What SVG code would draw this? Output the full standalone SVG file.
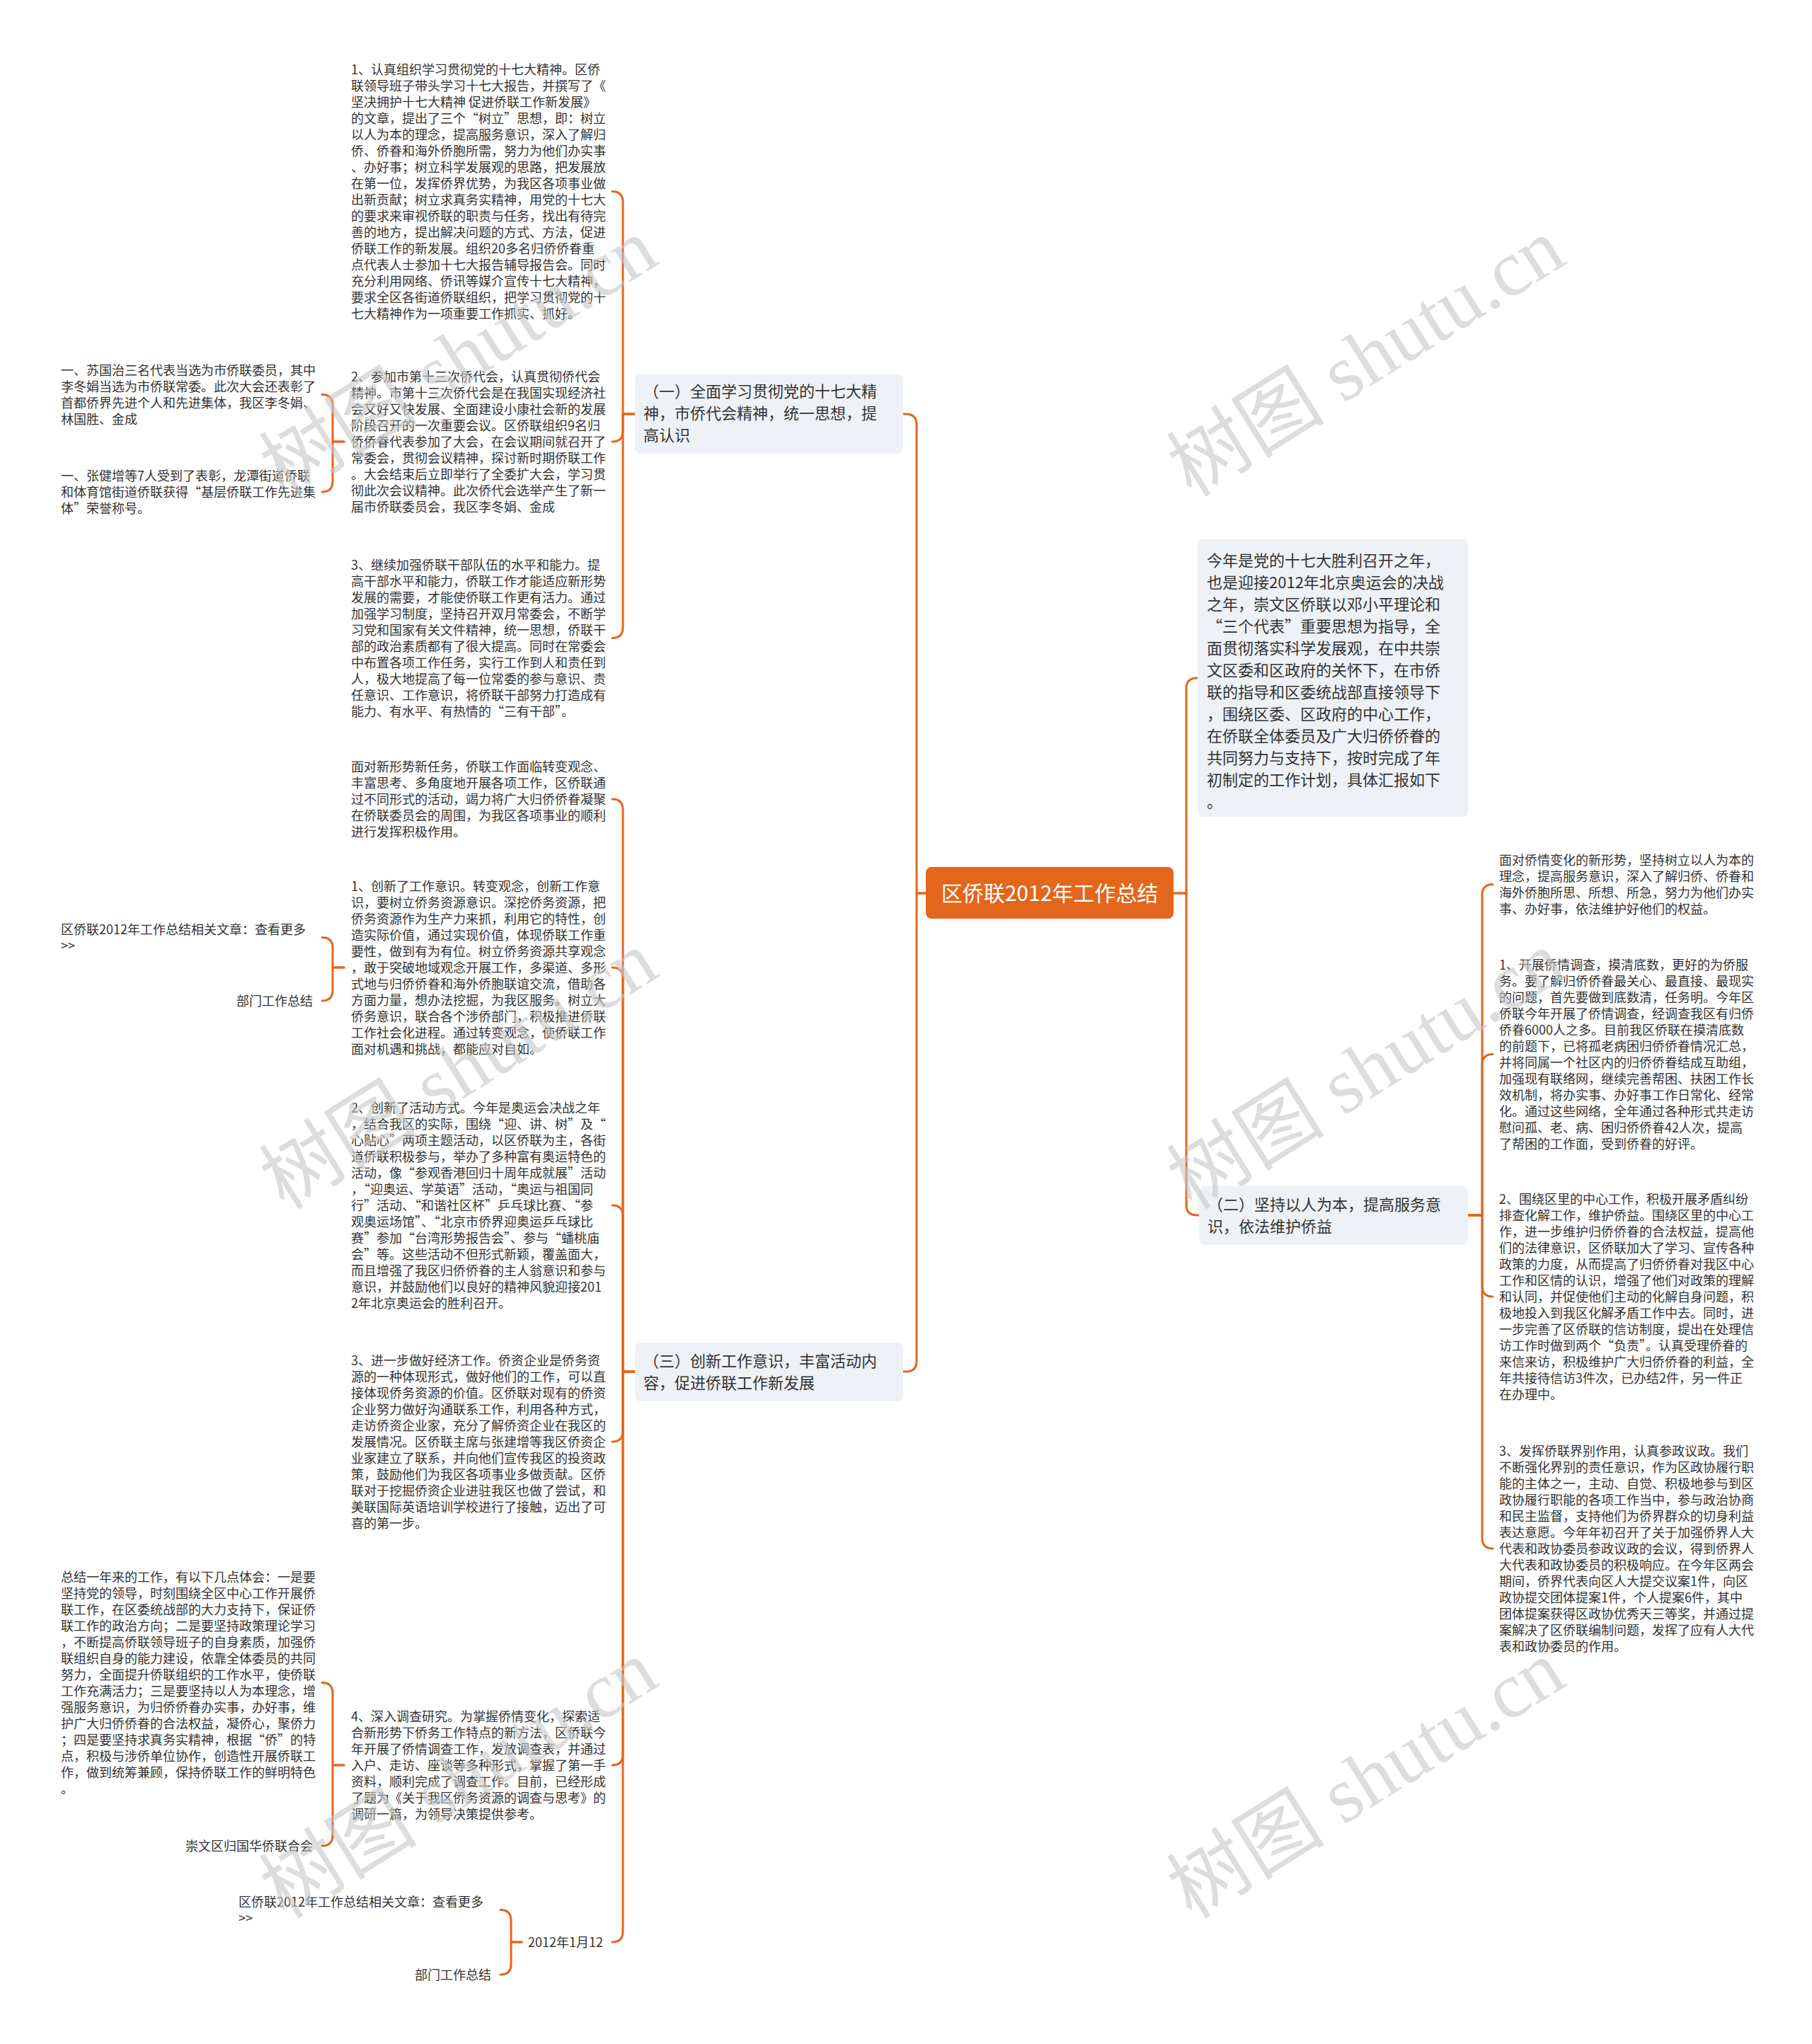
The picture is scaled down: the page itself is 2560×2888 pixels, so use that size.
<svg xmlns="http://www.w3.org/2000/svg" width="2560" height="2888" viewBox="0 0 2560 2888">
<style>
.t{font-family:"Noto Sans CJK SC","Noto Sans",sans-serif;font-size:18px;fill:#333}
.e{text-anchor:end}
.b{font-family:"Noto Sans CJK SC","Noto Sans",sans-serif;font-size:22px;fill:#333}
.c{font-family:"Noto Sans CJK SC","Noto Sans",sans-serif;font-size:30px;fill:#fff;text-anchor:middle}
.box{fill:#eef1f5}
.ln{fill:none;stroke:#e3661c;stroke-width:3;stroke-linecap:round;stroke-linejoin:round}
.wm{font-family:"Liberation Serif","Noto Sans CJK SC",serif;font-size:112px;fill:#c8c8c8;opacity:0.6;text-anchor:middle}
</style>
<rect width="2560" height="2888" fill="#fff"/>

<g id="connectors">
<path class="ln" d="M1308,1262 H1295 V600 Q1295,585 1280,585 H1276"/>
<path class="ln" d="M1308,1262 H1295 V1923 Q1295,1938 1280,1938 H1276"/>
<path class="ln" d="M1658,1262 H1676 V973 Q1676,958 1691,958"/>
<path class="ln" d="M1658,1262 H1676 V1702 Q1676,1717 1691,1717 H1694"/>
<path class="ln" d="M897,585 H880 V285.5 Q880,270.5 865,270.5"/>
<path class="ln" d="M897,585 H880 V609 Q880,624 865,624"/>
<path class="ln" d="M897,585 H880 V886.5 Q880,901.5 865,901.5"/>
<path class="ln" d="M486,624 H470 V572.5 Q470,557.5 455,557.5"/>
<path class="ln" d="M486,624 H470 V680 Q470,695 455,695"/>
<path class="ln" d="M897,1938 H880 V1144 Q880,1129 865,1129"/>
<path class="ln" d="M897,1938 H880 V1382 Q880,1367 865,1367"/>
<path class="ln" d="M897,1938 H880 V1718 Q880,1703 865,1703"/>
<path class="ln" d="M897,1938 H880 V2022 Q880,2037 865,2037"/>
<path class="ln" d="M897,1938 H880 V2479 Q880,2494 865,2494"/>
<path class="ln" d="M897,1938 H880 V2729 Q880,2744 865,2744"/>
<path class="ln" d="M486,1367 H470 V1339.5 Q470,1324.5 455,1324.5"/>
<path class="ln" d="M486,1367 H470 V1399 Q470,1414 455,1414"/>
<path class="ln" d="M486,2494 H470 V2392.5 Q470,2377.5 455,2377.5"/>
<path class="ln" d="M486,2494 H470 V2593 Q470,2608 455,2608"/>
<path class="ln" d="M737,2744 H722 V2713.5 Q722,2698.5 707,2698.5"/>
<path class="ln" d="M737,2744 H722 V2775 Q722,2790 707,2790"/>
<path class="ln" d="M2074,1717 H2094 V1264.5 Q2094,1249.5 2109,1249.5"/>
<path class="ln" d="M2074,1717 H2094 V1504.5 Q2094,1489.5 2109,1489.5"/>
<path class="ln" d="M2074,1717 H2094 V1817 Q2094,1832 2109,1832"/>
<path class="ln" d="M2074,1717 H2094 V2173 Q2094,2188 2109,2188"/>
</g>

<g id="root">
<rect x="1308" y="1225" width="350" height="73" rx="8" fill="#e3661c"/>
<text class="c" x="1483" y="1273">区侨联2012年工作总结</text>
</g>

<g id="intro">
<rect class="box" x="1692" y="762" width="382" height="392" rx="8"/>
<text class="b">
<tspan x="1705" y="800">今年是党的十七大胜利召开之年，</tspan>
<tspan x="1705" y="831">也是迎接2012年北京奥运会的决战</tspan>
<tspan x="1705" y="862">之年，崇文区侨联以邓小平理论和</tspan>
<tspan x="1705" y="893">“三个代表”重要思想为指导，全</tspan>
<tspan x="1705" y="924">面贯彻落实科学发展观，在中共崇</tspan>
<tspan x="1705" y="955">文区委和区政府的关怀下，在市侨</tspan>
<tspan x="1705" y="986">联的指导和区委统战部直接领导下</tspan>
<tspan x="1705" y="1017">，围绕区委、区政府的中心工作，</tspan>
<tspan x="1705" y="1048">在侨联全体委员及广大归侨侨眷的</tspan>
<tspan x="1705" y="1079">共同努力与支持下，按时完成了年</tspan>
<tspan x="1705" y="1110">初制定的工作计划，具体汇报如下</tspan>
<tspan x="1705" y="1141">。</tspan>
</text>
</g>

<g id="branch1">
<rect class="box" x="897" y="529" width="379" height="112" rx="8"/>
<text class="b">
<tspan x="909" y="561">（一）全面学习贯彻党的十七大精</tspan>
<tspan x="909" y="592">神，市侨代会精神，统一思想，提</tspan>
<tspan x="909" y="623">高认识</tspan>
</text>
</g>

<g id="branch2">
<rect class="box" x="1694" y="1676" width="380" height="83" rx="8"/>
<text class="b">
<tspan x="1706" y="1710">（二）坚持以人为本，提高服务意</tspan>
<tspan x="1706" y="1741">识，依法维护侨益</tspan>
</text>
</g>

<g id="branch3">
<rect class="box" x="897" y="1897" width="379" height="83" rx="8"/>
<text class="b">
<tspan x="909" y="1931">（三）创新工作意识，丰富活动内</tspan>
<tspan x="909" y="1962">容，促进侨联工作新发展</tspan>
</text>
</g>

<g id="n1-1">
<text class="t">
<tspan x="496" y="105">1、认真组织学习贯彻党的十七大精神。区侨</tspan>
<tspan x="496" y="128">联领导班子带头学习十七大报告，并撰写了《</tspan>
<tspan x="496" y="151">坚决拥护十七大精神  促进侨联工作新发展》</tspan>
<tspan x="496" y="174">的文章，提出了三个“树立”思想，即：树立</tspan>
<tspan x="496" y="197">以人为本的理念，提高服务意识，深入了解归</tspan>
<tspan x="496" y="220">侨、侨眷和海外侨胞所需，努力为他们办实事</tspan>
<tspan x="496" y="243">、办好事；树立科学发展观的思路，把发展放</tspan>
<tspan x="496" y="266">在第一位，发挥侨界优势，为我区各项事业做</tspan>
<tspan x="496" y="289">出新贡献；树立求真务实精神，用党的十七大</tspan>
<tspan x="496" y="312">的要求来审视侨联的职责与任务，找出有待完</tspan>
<tspan x="496" y="335">善的地方，提出解决问题的方式、方法，促进</tspan>
<tspan x="496" y="358">侨联工作的新发展。组织20多名归侨侨眷重</tspan>
<tspan x="496" y="381">点代表人士参加十七大报告辅导报告会。同时</tspan>
<tspan x="496" y="404">充分利用网络、侨讯等媒介宣传十七大精神，</tspan>
<tspan x="496" y="427">要求全区各街道侨联组织，把学习贯彻党的十</tspan>
<tspan x="496" y="450">七大精神作为一项重要工作抓实、抓好。</tspan>
</text>
</g>

<g id="n1-2">
<text class="t">
<tspan x="496" y="539">2、参加市第十三次侨代会，认真贯彻侨代会</tspan>
<tspan x="496" y="562">精神。市第十三次侨代会是在我国实现经济社</tspan>
<tspan x="496" y="585">会又好又快发展、全面建设小康社会新的发展</tspan>
<tspan x="496" y="608">阶段召开的一次重要会议。区侨联组织9名归</tspan>
<tspan x="496" y="631">侨侨眷代表参加了大会，在会议期间就召开了</tspan>
<tspan x="496" y="654">常委会，贯彻会议精神，探讨新时期侨联工作</tspan>
<tspan x="496" y="677">。大会结束后立即举行了全委扩大会，学习贯</tspan>
<tspan x="496" y="700">彻此次会议精神。此次侨代会选举产生了新一</tspan>
<tspan x="496" y="723">届市侨联委员会，我区李冬娟、金成</tspan>
</text>
</g>

<g id="n1-2-1">
<text class="t">
<tspan x="86" y="530">一、苏国治三名代表当选为市侨联委员，其中</tspan>
<tspan x="86" y="553">李冬娟当选为市侨联常委。此次大会还表彰了</tspan>
<tspan x="86" y="576">首都侨界先进个人和先进集体，我区李冬娟、</tspan>
<tspan x="86" y="599">林国胜、金成</tspan>
</text>
</g>

<g id="n1-2-2">
<text class="t">
<tspan x="86" y="679">一、张健增等7人受到了表彰，龙潭街道侨联</tspan>
<tspan x="86" y="702">和体育馆街道侨联获得“基层侨联工作先进集</tspan>
<tspan x="86" y="725">体”荣誉称号。</tspan>
</text>
</g>

<g id="n1-3">
<text class="t">
<tspan x="496" y="805">3、继续加强侨联干部队伍的水平和能力。提</tspan>
<tspan x="496" y="828">高干部水平和能力，侨联工作才能适应新形势</tspan>
<tspan x="496" y="851">发展的需要，才能使侨联工作更有活力。通过</tspan>
<tspan x="496" y="874">加强学习制度，坚持召开双月常委会，不断学</tspan>
<tspan x="496" y="897">习党和国家有关文件精神，统一思想，侨联干</tspan>
<tspan x="496" y="920">部的政治素质都有了很大提高。同时在常委会</tspan>
<tspan x="496" y="943">中布置各项工作任务，实行工作到人和责任到</tspan>
<tspan x="496" y="966">人，极大地提高了每一位常委的参与意识、责</tspan>
<tspan x="496" y="989">任意识、工作意识，将侨联干部努力打造成有</tspan>
<tspan x="496" y="1012">能力、有水平、有热情的“三有干部”。</tspan>
</text>
</g>

<g id="n3-0">
<text class="t">
<tspan x="496" y="1090">面对新形势新任务，侨联工作面临转变观念、</tspan>
<tspan x="496" y="1113">丰富思考、多角度地开展各项工作，区侨联通</tspan>
<tspan x="496" y="1136">过不同形式的活动，竭力将广大归侨侨眷凝聚</tspan>
<tspan x="496" y="1159">在侨联委员会的周围，为我区各项事业的顺利</tspan>
<tspan x="496" y="1182">进行发挥积极作用。</tspan>
</text>
</g>

<g id="n3-1">
<text class="t">
<tspan x="496" y="1259">1、创新了工作意识。转变观念，创新工作意</tspan>
<tspan x="496" y="1282">识，要树立侨务资源意识。深挖侨务资源，把</tspan>
<tspan x="496" y="1305">侨务资源作为生产力来抓，利用它的特性，创</tspan>
<tspan x="496" y="1328">造实际价值，通过实现价值，体现侨联工作重</tspan>
<tspan x="496" y="1351">要性，做到有为有位。树立侨务资源共享观念</tspan>
<tspan x="496" y="1374">，敢于突破地域观念开展工作，多渠道、多形</tspan>
<tspan x="496" y="1397">式地与归侨侨眷和海外侨胞联谊交流，借助各</tspan>
<tspan x="496" y="1420">方面力量，想办法挖掘，为我区服务。树立大</tspan>
<tspan x="496" y="1443">侨务意识，联合各个涉侨部门，积极推进侨联</tspan>
<tspan x="496" y="1466">工作社会化进程。通过转变观念，使侨联工作</tspan>
<tspan x="496" y="1489">面对机遇和挑战，都能应对自如。</tspan>
</text>
</g>

<g id="n3-1-1">
<text class="t">
<tspan x="86" y="1320">区侨联2012年工作总结相关文章：查看更多</tspan>
<tspan x="86" y="1343">&gt;&gt;</tspan>
</text>
</g>

<g id="n3-1-2">
<text class="t e" x="442" y="1421">部门工作总结</text>
</g>

<g id="n3-2">
<text class="t">
<tspan x="496" y="1572">2、创新了活动方式。今年是奥运会决战之年</tspan>
<tspan x="496" y="1595">，结合我区的实际，围绕“迎、讲、树”及“</tspan>
<tspan x="496" y="1618">心贴心”两项主题活动，以区侨联为主，各街</tspan>
<tspan x="496" y="1641">道侨联积极参与，举办了多种富有奥运特色的</tspan>
<tspan x="496" y="1664">活动，像“参观香港回归十周年成就展”活动</tspan>
<tspan x="496" y="1687">，“迎奥运、学英语”活动，“奥运与祖国同</tspan>
<tspan x="496" y="1710">行”活动、“和谐社区杯”乒乓球比赛、“参</tspan>
<tspan x="496" y="1733">观奥运场馆”、“北京市侨界迎奥运乒乓球比</tspan>
<tspan x="496" y="1756">赛”参加“台湾形势报告会”、参与“蟠桃庙</tspan>
<tspan x="496" y="1779">会”等。这些活动不但形式新颖，覆盖面大，</tspan>
<tspan x="496" y="1802">而且增强了我区归侨侨眷的主人翁意识和参与</tspan>
<tspan x="496" y="1825">意识，并鼓励他们以良好的精神风貌迎接201</tspan>
<tspan x="496" y="1848">2年北京奥运会的胜利召开。</tspan>
</text>
</g>

<g id="n3-3">
<text class="t">
<tspan x="496" y="1929">3、进一步做好经济工作。侨资企业是侨务资</tspan>
<tspan x="496" y="1952">源的一种体现形式，做好他们的工作，可以直</tspan>
<tspan x="496" y="1975">接体现侨务资源的价值。区侨联对现有的侨资</tspan>
<tspan x="496" y="1998">企业努力做好沟通联系工作，利用各种方式，</tspan>
<tspan x="496" y="2021">走访侨资企业家，充分了解侨资企业在我区的</tspan>
<tspan x="496" y="2044">发展情况。区侨联主席与张建增等我区侨资企</tspan>
<tspan x="496" y="2067">业家建立了联系，并向他们宣传我区的投资政</tspan>
<tspan x="496" y="2090">策，鼓励他们为我区各项事业多做贡献。区侨</tspan>
<tspan x="496" y="2113">联对于挖掘侨资企业进驻我区也做了尝试，和</tspan>
<tspan x="496" y="2136">美联国际英语培训学校进行了接触，迈出了可</tspan>
<tspan x="496" y="2159">喜的第一步。</tspan>
</text>
</g>

<g id="n3-4">
<text class="t">
<tspan x="496" y="2432">4、深入调查研究。为掌握侨情变化，探索适</tspan>
<tspan x="496" y="2455">合新形势下侨务工作特点的新方法，区侨联今</tspan>
<tspan x="496" y="2478">年开展了侨情调查工作，发放调查表，并通过</tspan>
<tspan x="496" y="2501">入户、走访、座谈等多种形式，掌握了第一手</tspan>
<tspan x="496" y="2524">资料，顺利完成了调查工作。目前，已经形成</tspan>
<tspan x="496" y="2547">了题为《关于我区侨务资源的调查与思考》的</tspan>
<tspan x="496" y="2570">调研一篇，为领导决策提供参考。</tspan>
</text>
</g>

<g id="n3-4-1">
<text class="t">
<tspan x="86" y="2235">总结一年来的工作，有以下几点体会：一是要</tspan>
<tspan x="86" y="2258">坚持党的领导，时刻围绕全区中心工作开展侨</tspan>
<tspan x="86" y="2281">联工作，在区委统战部的大力支持下，保证侨</tspan>
<tspan x="86" y="2304">联工作的政治方向；二是要坚持政策理论学习</tspan>
<tspan x="86" y="2327">，不断提高侨联领导班子的自身素质，加强侨</tspan>
<tspan x="86" y="2350">联组织自身的能力建设，依靠全体委员的共同</tspan>
<tspan x="86" y="2373">努力，全面提升侨联组织的工作水平，使侨联</tspan>
<tspan x="86" y="2396">工作充满活力；三是要坚持以人为本理念，增</tspan>
<tspan x="86" y="2419">强服务意识，为归侨侨眷办实事，办好事，维</tspan>
<tspan x="86" y="2442">护广大归侨侨眷的合法权益，凝侨心，聚侨力</tspan>
<tspan x="86" y="2465">；四是要坚持求真务实精神，根据“侨”的特</tspan>
<tspan x="86" y="2488">点，积极与涉侨单位协作，创造性开展侨联工</tspan>
<tspan x="86" y="2511">作，做到统筹兼顾，保持侨联工作的鲜明特色</tspan>
<tspan x="86" y="2534">。</tspan>
</text>
</g>

<g id="n3-4-2">
<text class="t e" x="442" y="2615">崇文区归国华侨联合会</text>
</g>

<g id="n3-5">
<text class="t" x="746" y="2751">2012年1月12</text>
</g>

<g id="n3-5-1">
<text class="t">
<tspan x="337" y="2694">区侨联2012年工作总结相关文章：查看更多</tspan>
<tspan x="337" y="2717">&gt;&gt;</tspan>
</text>
</g>

<g id="n3-5-2">
<text class="t e" x="694" y="2797">部门工作总结</text>
</g>

<g id="n2-0">
<text class="t">
<tspan x="2118" y="1222">面对侨情变化的新形势，坚持树立以人为本的</tspan>
<tspan x="2118" y="1245">理念，提高服务意识，深入了解归侨、侨眷和</tspan>
<tspan x="2118" y="1268">海外侨胞所思、所想、所急，努力为他们办实</tspan>
<tspan x="2118" y="1291">事、办好事，依法维护好他们的权益。</tspan>
</text>
</g>

<g id="n2-1">
<text class="t">
<tspan x="2118" y="1370">1、开展侨情调查，摸清底数，更好的为侨服</tspan>
<tspan x="2118" y="1393">务。要了解归侨侨眷最关心、最直接、最现实</tspan>
<tspan x="2118" y="1416">的问题，首先要做到底数清，任务明。今年区</tspan>
<tspan x="2118" y="1439">侨联今年开展了侨情调查，经调查我区有归侨</tspan>
<tspan x="2118" y="1462">侨眷6000人之多。目前我区侨联在摸清底数</tspan>
<tspan x="2118" y="1485">的前题下，已将孤老病困归侨侨眷情况汇总，</tspan>
<tspan x="2118" y="1508">并将同属一个社区内的归侨侨眷结成互助组，</tspan>
<tspan x="2118" y="1531">加强现有联络网，继续完善帮困、扶困工作长</tspan>
<tspan x="2118" y="1554">效机制，将办实事、办好事工作日常化、经常</tspan>
<tspan x="2118" y="1577">化。通过这些网络，全年通过各种形式共走访</tspan>
<tspan x="2118" y="1600">慰问孤、老、病、困归侨侨眷42人次，提高</tspan>
<tspan x="2118" y="1623">了帮困的工作面，受到侨眷的好评。</tspan>
</text>
</g>

<g id="n2-2">
<text class="t">
<tspan x="2118" y="1701">2、围绕区里的中心工作，积极开展矛盾纠纷</tspan>
<tspan x="2118" y="1724">排查化解工作，维护侨益。围绕区里的中心工</tspan>
<tspan x="2118" y="1747">作，进一步维护归侨侨眷的合法权益，提高他</tspan>
<tspan x="2118" y="1770">们的法律意识，区侨联加大了学习、宣传各种</tspan>
<tspan x="2118" y="1793">政策的力度，从而提高了归侨侨眷对我区中心</tspan>
<tspan x="2118" y="1816">工作和区情的认识，增强了他们对政策的理解</tspan>
<tspan x="2118" y="1839">和认同，并促使他们主动的化解自身问题，积</tspan>
<tspan x="2118" y="1862">极地投入到我区化解矛盾工作中去。同时，进</tspan>
<tspan x="2118" y="1885">一步完善了区侨联的信访制度，提出在处理信</tspan>
<tspan x="2118" y="1908">访工作时做到两个“负责”。认真受理侨眷的</tspan>
<tspan x="2118" y="1931">来信来访，积极维护广大归侨侨眷的利益，全</tspan>
<tspan x="2118" y="1954">年共接待信访3件次，已办结2件，另一件正</tspan>
<tspan x="2118" y="1977">在办理中。</tspan>
</text>
</g>

<g id="n2-3">
<text class="t">
<tspan x="2118" y="2057">3、发挥侨联界别作用，认真参政议政。我们</tspan>
<tspan x="2118" y="2080">不断强化界别的责任意识，作为区政协履行职</tspan>
<tspan x="2118" y="2103">能的主体之一，主动、自觉、积极地参与到区</tspan>
<tspan x="2118" y="2126">政协履行职能的各项工作当中，参与政治协商</tspan>
<tspan x="2118" y="2149">和民主监督，支持他们为侨界群众的切身利益</tspan>
<tspan x="2118" y="2172">表达意愿。今年年初召开了关于加强侨界人大</tspan>
<tspan x="2118" y="2195">代表和政协委员参政议政的会议，得到侨界人</tspan>
<tspan x="2118" y="2218">大代表和政协委员的积极响应。在今年区两会</tspan>
<tspan x="2118" y="2241">期间，侨界代表向区人大提交议案1件，向区</tspan>
<tspan x="2118" y="2264">政协提交团体提案1件，个人提案6件，其中</tspan>
<tspan x="2118" y="2287">团体提案获得区政协优秀天三等奖，并通过提</tspan>
<tspan x="2118" y="2310">案解决了区侨联编制问题，发挥了应有人大代</tspan>
<tspan x="2118" y="2333">表和政协委员的作用。</tspan>
</text>
</g>

<g id="watermarks">
<text class="wm" x="648" y="543" transform="rotate(-32 648 505)">树图 shutu.cn</text>
<text class="wm" x="648" y="1550" transform="rotate(-32 648 1512)">树图 shutu.cn</text>
<text class="wm" x="648" y="2552" transform="rotate(-32 648 2514)">树图 shutu.cn</text>
<text class="wm" x="1930" y="543" transform="rotate(-32 1930 505)">树图 shutu.cn</text>
<text class="wm" x="1930" y="1550" transform="rotate(-32 1930 1512)">树图 shutu.cn</text>
<text class="wm" x="1930" y="2552" transform="rotate(-32 1930 2514)">树图 shutu.cn</text>
</g>
</svg>
